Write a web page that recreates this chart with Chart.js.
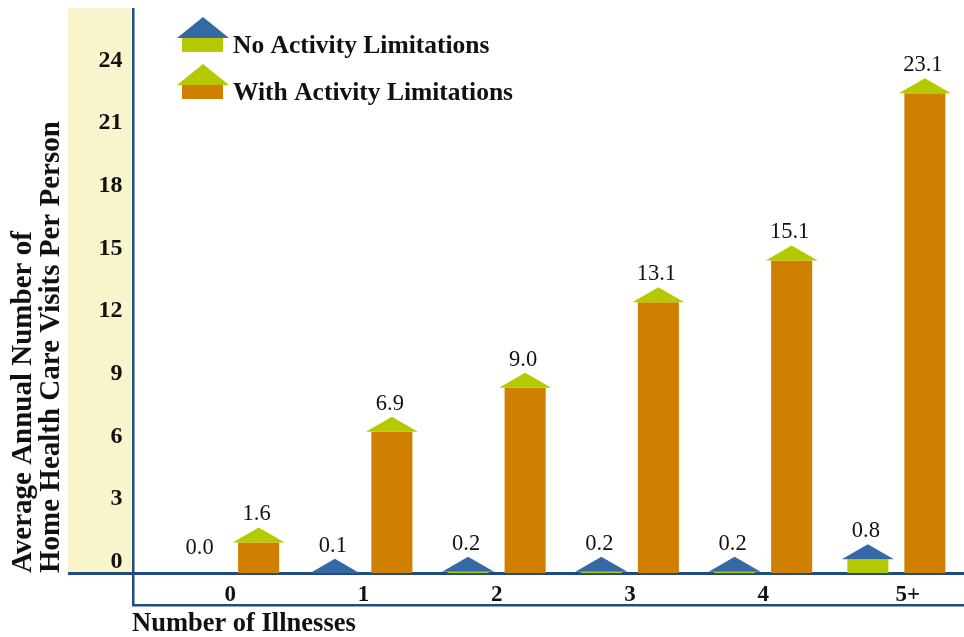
<!DOCTYPE html>
<html>
<head>
<meta charset="utf-8">
<title>Home Health Care Visits</title>
<script src="https://cdn.jsdelivr.net/npm/chart.js@4/dist/chart.umd.min.js"></script>
<style>
    html, body { margin: 0; padding: 0; background: #fff; }
    canvas { display: block; }
</style>
</head>
<body>
<canvas id="visitsChart" width="964" height="637"></canvas>
<script>
const illnesses = ['0', '1', '2', '3', '4', '5+'];
const noLimitations = [0.0, 0.1, 0.2, 0.2, 0.2, 0.8];
const withLimitations = [1.6, 6.9, 9.0, 13.1, 15.1, 23.1];
const yTicks = [0, 3, 6, 9, 12, 15, 18, 21, 24];

const BLUE = '#3569a6';
const GREEN = '#b5c900';
const ORANGE = '#d08000';
const NAVY = '#1f4a82';
const SERIF = '"Liberation Serif", serif';

let roofColors = [BLUE, GREEN];

// Cream band and the navy frame lines behind the bars
const framePlugin = {
    id: 'frame',
    beforeDraw(chart) {
        let ctx = chart.ctx;
        let bottom = chart.chartArea.bottom;
        ctx.save();
        ctx.fillStyle = '#f8f5cd';
        ctx.fillRect(68, 8, 63, bottom - 8);
        ctx.fillStyle = NAVY;
        ctx.fillRect(132, 8, 2.5, 597);
        ctx.fillRect(68, bottom - 1, 896, 3);
        ctx.fillRect(132, 604, 832, 2.5);
        ctx.restore();
    }
};

// Every bar gets a triangular roof and its value written above it
const housePlugin = {
    id: 'house',
    afterDatasetsDraw(chart) {
        let ctx = chart.ctx;
        let area = chart.chartArea;
        chart.data.datasets.forEach((dataset, d) => {
            chart.getDatasetMeta(d).data.forEach((bar, i) => {
                let value = dataset.data[i];
                let half = bar.width / 2 + 5.5;
                if (value > 0) {
                    ctx.save();
                    ctx.beginPath();
                    ctx.rect(area.left, area.top, area.width, area.height);
                    ctx.clip();
                    ctx.fillStyle = roofColors[d];
                    ctx.beginPath();
                    ctx.moveTo(bar.x - half, bar.y);
                    ctx.lineTo(bar.x, bar.y - 15);
                    ctx.lineTo(bar.x + half, bar.y);
                    ctx.closePath();
                    ctx.fill();
                    ctx.restore();
                }
                ctx.save();
                ctx.fillStyle = '#111';
                ctx.font = '22.5px ' + SERIF;
                ctx.textAlign = 'center';
                ctx.textBaseline = 'alphabetic';
                ctx.fillText(value.toFixed(1), bar.x - 2, bar.y - 22);
                ctx.restore();
            });
        });
    }
};

// Legend with little house icons, plus the label under the category axis
const legendPlugin = {
    id: 'houseLegend',
    afterDraw(chart) {
        let ctx = chart.ctx;
        let bodies = [GREEN, ORANGE];
        let rows = [17, 64];
        ctx.save();
        ctx.textAlign = 'left';
        ctx.textBaseline = 'alphabetic';
        chart.data.datasets.forEach((dataset, d) => {
            let top = rows[d];
            ctx.fillStyle = roofColors[d];
            ctx.beginPath();
            ctx.moveTo(177, top + 21);
            ctx.lineTo(203, top);
            ctx.lineTo(229, top + 21);
            ctx.closePath();
            ctx.fill();
            ctx.fillStyle = bodies[d];
            ctx.fillRect(182, top + 21, 41, 14);
            ctx.fillStyle = '#111';
            ctx.font = 'bold 25.5px ' + SERIF;
            ctx.fillText(dataset.label, 233, top + 36);
        });
        ctx.font = 'bold 26.5px ' + SERIF;
        ctx.fillText('Number of Illnesses', 132, 631);
        ctx.restore();
    }
};

new Chart(document.getElementById('visitsChart').getContext('2d'), {
    type: 'bar',
    plugins: [framePlugin, housePlugin, legendPlugin],
    data: {
        labels: illnesses,
        datasets: [
            {label: 'No Activity Limitations', data: noLimitations, backgroundColor: GREEN},
            {label: 'With Activity Limitations', data: withLimitations, backgroundColor: ORANGE}
        ]
    },
    options: {
        responsive: false,
        animation: false,
        layout: {padding: {top: 8, right: 1}},
        datasets: {bar: {categoryPercentage: 0.856, barPercentage: 0.72}},
        plugins: {legend: {display: false}, tooltip: {enabled: false}},
        scales: {
            x: {
                grid: {display: false},
                border: {display: false},
                afterFit: scale => {
                    scale.height = 64;
                    scale.paddingLeft = 0;
                    scale.paddingRight = 0;
                },
                ticks: {
                    color: '#111',
                    padding: 0,
                    maxRotation: 0,
                    font: {family: SERIF, size: 23, weight: 'bold'},
                    // the last label sits a little right of its group
                    callback: function (value) {
                        let label = this.getLabelForValue(value);
                        return label === '5+' ? '\u00a0\u00a0\u00a0\u00a05+' : label;
                    }
                }
            },
            y: {
                min: 0.14,
                max: 27.18,
                grid: {display: false, drawTicks: false},
                border: {display: false},
                afterFit: scale => {
                    scale.width = 163.5;
                    scale.paddingTop = 0;
                    scale.paddingBottom = 0;
                },
                afterBuildTicks: scale => { scale.ticks = yTicks.map(v => ({value: v})); },
                ticks: {
                    color: '#111',
                    padding: 41,
                    labelOffset: -14,
                    autoSkip: false,
                    font: {family: SERIF, size: 24, weight: 'bold'}
                },
                title: {
                    display: true,
                    align: 'start',
                    text: ['Average Annual Number of', 'Home Health Care Visits Per Person'],
                    color: '#111',
                    padding: {top: 9, bottom: 0},
                    font: {family: SERIF, size: 29, weight: 'bold', lineHeight: 0.97}
                }
            }
        }
    }
});
</script>
</body>
</html>
